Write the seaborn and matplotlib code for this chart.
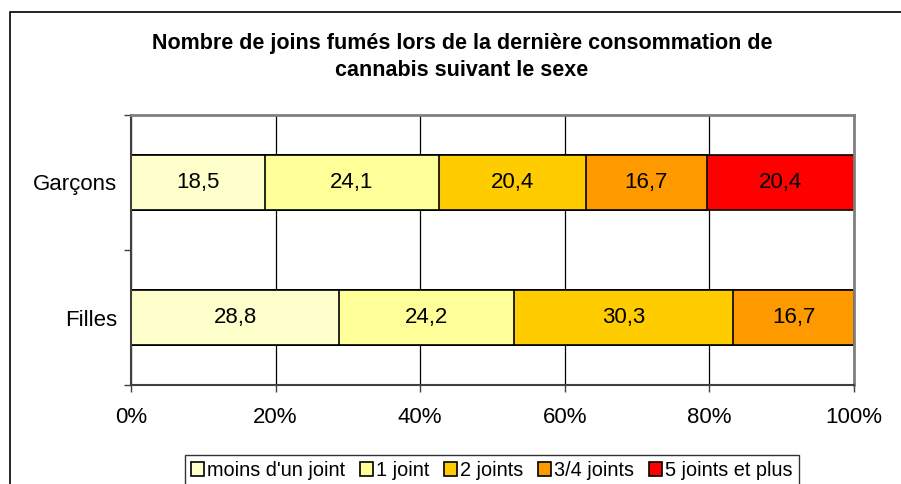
import numpy as np
import pandas as pd
import matplotlib.pyplot as plt
import seaborn as sns
from matplotlib.patches import Patch, Rectangle

categories = ["Garçons", "Filles"]
segments = ["moins d'un joint", "1 joint", "2 joints", "3/4 joints", "5 joints et plus"]
garcons = [18.5, 24.1, 20.4, 16.7, 20.4]
filles = [28.8, 24.2, 30.3, 16.7, 0.0]
colors = ["#FFFFCC", "#FFFF99", "#FFCC00", "#FF9900", "#FF0000"]
xticks = [0, 20, 40, 60, 80, 100]

sns.set_theme(style="white")
plt.rcParams["font.family"] = ["Liberation Sans", "DejaVu Sans"]
plt.rcParams["text.color"] = "black"
plt.rcParams["xtick.labelcolor"] = "black"
plt.rcParams["ytick.labelcolor"] = "black"

vals = np.array([garcons, filles])
pct = vals / vals.sum(axis=1, keepdims=True) * 100
cum = pct.cumsum(axis=1)

fig = plt.figure(figsize=(9.01, 4.84), dpi=100)
ax = fig.add_axes([131 / 901, 1 - 385 / 484, 723 / 901, 270 / 484])

# widest cumulative first, narrower ones drawn on top
for j in range(len(segments) - 1, -1, -1):
    df = pd.DataFrame({"cat": categories, "val": cum[:, j]})
    sns.barplot(data=df, x="val", y="cat", orient="h", color=colors[j], width=0.41,
                edgecolor="black", linewidth=1.2, saturation=1, ax=ax, zorder=2)

for i in range(len(categories)):
    for j in range(len(segments)):
        if vals[i, j] <= 0:
            continue
        xc = cum[i, j] - pct[i, j] / 2
        ax.text(xc, i, f"{vals[i, j]:.1f}".replace(".", ","), ha="center", va="center",
                fontsize=16, color="black", zorder=3)

ax.set_xlim(0, 100)
ax.set_ylim(1.5, -0.5)
ax.set_xticks(xticks)
ax.set_xticklabels([f"{t}%" for t in xticks], fontsize=16)
ax.set_yticks([-0.5, 0.5, 1.5])
ax.set_yticklabels([])
ax.set_yticks([0, 1], minor=True)
ax.set_yticklabels(categories, minor=True, fontsize=16)
ax.tick_params(axis="y", which="minor", length=0, pad=10)
ax.tick_params(axis="y", which="major", length=5, width=1, color="#404040", direction="out", left=True)
ax.tick_params(axis="x", length=5, width=1, color="#404040", direction="out", bottom=True, pad=11)
ax.set_xlabel("")
ax.set_ylabel("")

ax.xaxis.grid(True, color="black", linewidth=0.9)
ax.set_axisbelow(True)
for s in ["left", "bottom"]:
    ax.spines[s].set_color("#404040")
    ax.spines[s].set_linewidth(1.5)
for s in ["top", "right"]:
    ax.spines[s].set_color("#808080")
    ax.spines[s].set_linewidth(2)

fig.text(462 / 901, 1 - 43 / 484, "Nombre de joins fumés lors de la dernière consommation de",
         ha="center", va="center", fontsize=15.5, fontweight="bold")
fig.text(462 / 901, 1 - 70 / 484, "cannabis suivant le sexe",
         ha="center", va="center", fontsize=15.5, fontweight="bold")

handles = [Patch(facecolor=c, edgecolor="black", linewidth=1.2) for c in colors]
leg = fig.legend(handles, segments, loc="upper center", bbox_to_anchor=(492 / 901, 1 - 455 / 484),
                 ncol=5, fontsize=14.3, frameon=True, fancybox=False, handlelength=0.65,
                 handleheight=0.65, handletextpad=0.15, columnspacing=0.75, borderpad=0.3,
                 borderaxespad=0)
leg.get_frame().set_edgecolor("black")
leg.get_frame().set_linewidth(1)

fig.patches.append(Rectangle((10 / 901, -0.1), 1.2, 1.1 - 12 / 484, transform=fig.transFigure,
                             fill=False, edgecolor="black", linewidth=1.2))

fig.savefig("out.png", dpi=100)
